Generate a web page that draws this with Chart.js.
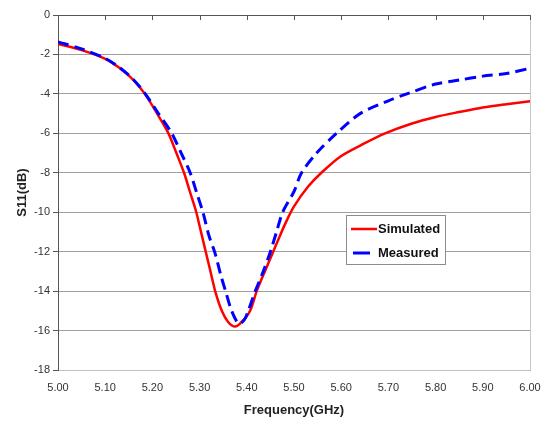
<!DOCTYPE html>
<html>
<head>
<meta charset="utf-8">
<script src="https://cdn.jsdelivr.net/npm/chart.js@4/dist/chart.umd.min.js"></script>
<style>
  html, body { margin: 0; padding: 0; background: #fff; }
  #wrap { width: 544px; height: 421px; }
</style>
</head>
<body>
<div id="wrap"><canvas id="s11Chart" width="544" height="421"></canvas></div>
<script>
// Simulated S11 (red, solid)
const simFreq = [5.00, 5.05, 5.10, 5.13, 5.16, 5.184, 5.21, 5.234, 5.25, 5.267, 5.28, 5.293, 5.30, 5.313, 5.323, 5.333, 5.347,
                 5.36, 5.375, 5.39, 5.407, 5.421, 5.44, 5.456, 5.47, 5.485, 5.50, 5.53, 5.558, 5.60, 5.65, 5.693, 5.75,
                 5.80, 5.85, 5.90, 5.95, 6.00];
const simS11  = [-1.47, -1.78, -2.22, -2.68, -3.3, -4.0, -5.0, -6.0, -6.95, -8.0, -9.0, -10.0, -10.7, -12.0, -13.0, -14.0, -15.0,
                 -15.55, -15.8, -15.55, -15.0, -14.0, -12.9, -12.0, -11.2, -10.4, -9.7, -8.7, -8.0, -7.15, -6.5, -6.0, -5.5,
                 -5.17, -4.92, -4.69, -4.52, -4.37];

// Measured S11 (blue, dashed)
const measFreq = [5.00, 5.05, 5.10, 5.13, 5.16, 5.185, 5.21, 5.241, 5.26, 5.28, 5.295, 5.307, 5.32, 5.333, 5.345, 5.355, 5.368,
                  5.383, 5.395, 5.403, 5.418, 5.435, 5.45, 5.463, 5.476, 5.50, 5.516, 5.548, 5.59, 5.64, 5.70, 5.739,
                  5.80, 5.85, 5.90, 5.95, 6.00];
const measS11  = [-1.36, -1.72, -2.2, -2.66, -3.28, -4.0, -4.9, -6.0, -6.95, -8.0, -9.1, -10.0, -11.2, -12.1, -13.2, -14.0, -15.0,
                  -15.65, -15.45, -15.0, -14.0, -13.0, -12.0, -11.0, -10.0, -8.95, -8.0, -7.0, -6.0, -5.0, -4.35, -4.0,
                  -3.5, -3.3, -3.1, -2.97, -2.7];

const seriesNames = ['Simulated', 'Measured'];
const xTickLabels = ['5.00', '5.10', '5.20', '5.30', '5.40', '5.50', '5.60', '5.70', '5.80', '5.90', '6.00'];
const yTickLabels = ['-18', '-16', '-14', '-12', '-10', '-8', '-6', '-4', '-2', '0'];

const toPoints = (xs, ys) => xs.map((x, i) => ({ x: x, y: ys[i] }));

// top tick marks, right border and the boxed legend inside the plot
const excelFrame = {
    id: 'excelFrame',
    beforeDatasetsDraw(chart) {
        const { ctx, chartArea, scales } = chart;
        ctx.save();
        ctx.strokeStyle = '#c8c8c8';
        ctx.lineWidth = 1;
        ctx.beginPath();
        ctx.moveTo(Math.round(chartArea.right) + 0.5, chartArea.top);
        ctx.lineTo(Math.round(chartArea.right) + 0.5, chartArea.bottom);
        ctx.stroke();
        ctx.strokeStyle = '#555';
        scales.x.ticks.forEach(t => {
            const px = Math.round(scales.x.getPixelForValue(t.value)) + 0.5;
            ctx.beginPath();
            ctx.moveTo(px, chartArea.top);
            ctx.lineTo(px, chartArea.top + 5);
            ctx.stroke();
        });
        ctx.restore();
    },
    afterDraw(chart) {
        const ctx = chart.ctx;
        const sets = chart.data.datasets;
        ctx.save();
        ctx.fillStyle = '#fff';
        ctx.strokeStyle = '#8c8c8c';
        ctx.lineWidth = 1;
        ctx.fillRect(346.5, 215.5, 99, 49);
        ctx.strokeRect(346.5, 215.5, 99, 49);
        ctx.font = 'bold 13px "Liberation Sans", Arial, sans-serif';
        ctx.textBaseline = 'middle';
        const rows = [229, 253];
        sets.forEach((ds, i) => {
            ctx.strokeStyle = ds.borderColor;
            ctx.lineWidth = ds.borderWidth;
            ctx.setLineDash([]);
            ctx.beginPath();
            if (ds.borderDash && ds.borderDash.length) {
                ctx.moveTo(353, rows[i]);
                ctx.lineTo(370, rows[i]);
            } else {
                ctx.moveTo(351, rows[i]);
                ctx.lineTo(377, rows[i]);
            }
            ctx.stroke();
            ctx.fillStyle = '#111';
            ctx.fillText(ds.label, 378, rows[i]);
        });
        ctx.restore();
    }
};

new Chart(document.getElementById('s11Chart').getContext('2d'), {
    type: 'line',
    data: {
        datasets: [{
            label: seriesNames[0],
            data: toPoints(simFreq, simS11),
            borderColor: '#ff0000',
            borderWidth: 2.5,
            pointRadius: 0,
            tension: 0.3,
            fill: false,
            order: 1
        }, {
            label: seriesNames[1],
            data: toPoints(measFreq, measS11),
            borderColor: '#0000ff',
            borderWidth: 3,
            borderDash: [11, 6],
            pointRadius: 0,
            tension: 0.3,
            fill: false,
            order: 0
        }]
    },
    options: {
        responsive: false,
        animation: false,
        devicePixelRatio: 1,
        layout: { padding: { top: 15, right: 14, left: 0, bottom: 0 } },
        plugins: { legend: { display: false }, tooltip: { enabled: false } },
        scales: {
            x: {
                type: 'linear',
                min: 5,
                max: 6,
                afterFit: (axis) => {
                    axis.height = 51;
                    axis.paddingLeft = 0;
                    axis.paddingRight = 0;
                },
                ticks: {
                    stepSize: 0.1,
                    padding: 11,
                    color: '#333',
                    font: { family: '"Liberation Sans", Arial, sans-serif', size: 11 },
                    callback: (v, i) => xTickLabels[i]
                },
                grid: { drawOnChartArea: false, drawTicks: false },
                border: { color: '#c0c0c0' },
                title: {
                    display: true,
                    text: 'Frequency(GHz)',
                    color: '#222',
                    font: { family: '"Liberation Sans", Arial, sans-serif', size: 13, weight: 'bold' },
                    padding: { top: 0, bottom: 3 }
                }
            },
            y: {
                min: -18,
                max: 0,
                afterFit: (axis) => { axis.width = 58; },
                ticks: {
                    stepSize: 2,
                    padding: 3,
                    color: '#333',
                    font: { family: '"Liberation Sans", Arial, sans-serif', size: 11 },
                    callback: (v, i) => yTickLabels[i]
                },
                grid: {
                    color: (c) => c.tick && c.tick.value === 0 ? '#555' : (c.tick && c.tick.value === -18 ? '#c0c0c0' : '#a0a0a0'),
                    tickColor: '#555',
                    tickLength: 5
                },
                border: { color: '#555' },
                title: {
                    display: true,
                    text: 'S11(dB)',
                    color: '#222',
                    font: { family: '"Liberation Sans", Arial, sans-serif', size: 13, weight: 'bold' },
                    padding: { top: 15, bottom: 0 }
                }
            }
        }
    },
    plugins: [excelFrame]
});
</script>
</body>
</html>
